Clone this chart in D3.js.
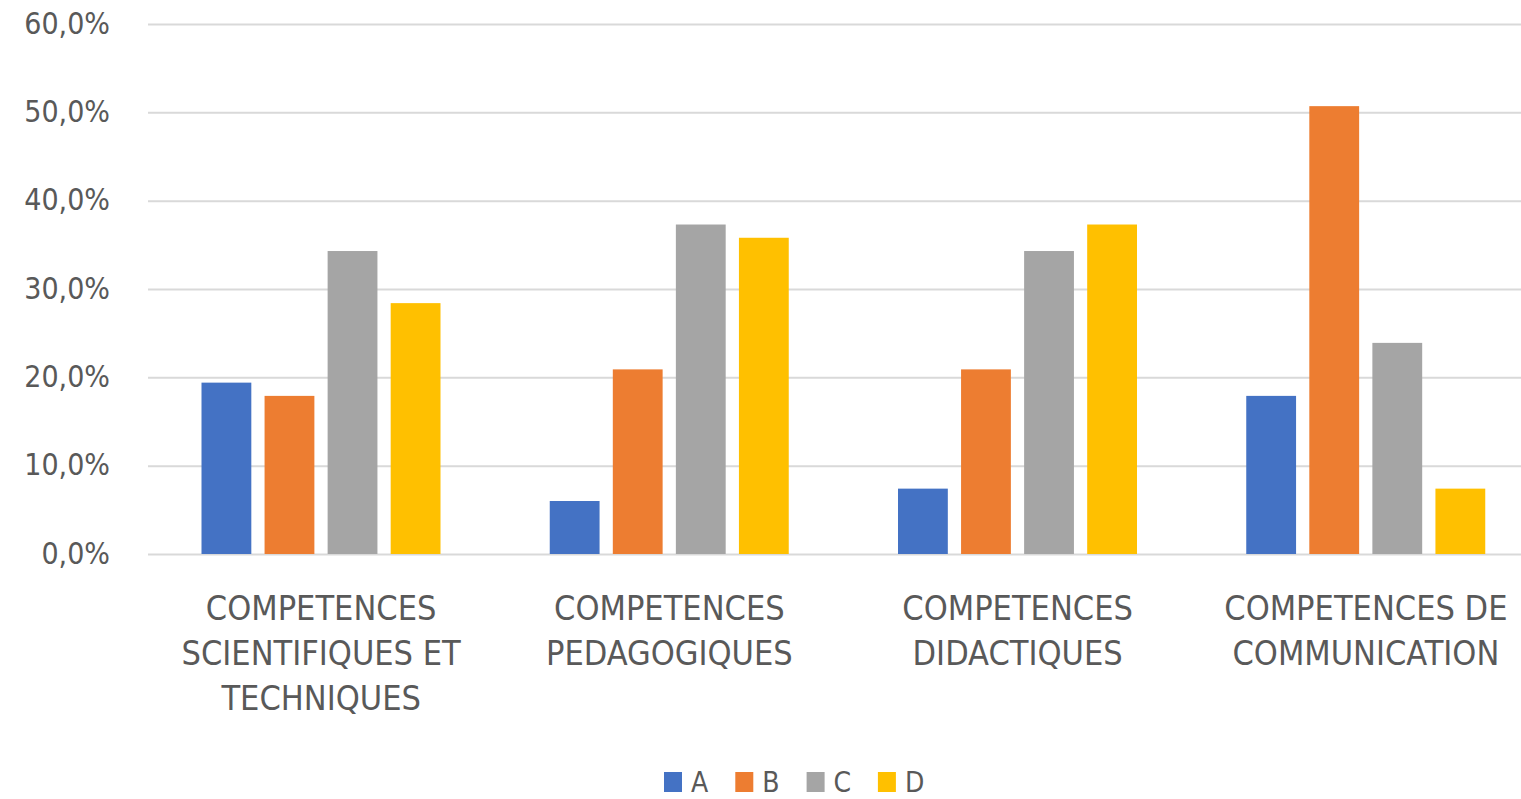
<!DOCTYPE html>
<html>
<head>
<meta charset="utf-8">
<script src="https://cdn.jsdelivr.net/npm/d3@7"></script>
<style>
  html, body { margin: 0; padding: 0; background: #fff; }
  svg text { font-family: "DejaVu Sans Condensed", "DejaVu Sans", sans-serif; fill: #595959; }
</style>
</head>
<body>
<svg class="chart"></svg>
<script>
'use strict';

(function () {

var WIDTH = 1521;
var HEIGHT = 799;

var categories = [
    'COMPETENCES SCIENTIFIQUES ET TECHNIQUES',
    'COMPETENCES PEDAGOGIQUES',
    'COMPETENCES DIDACTIQUES',
    'COMPETENCES DE COMMUNICATION'
];
var seriesKeys = ['A', 'B', 'C', 'D'];
var seriesA = [19.4, 6.0, 7.4, 17.9];
var seriesB = [17.9, 20.9, 20.9, 50.7];
var seriesC = [34.3, 37.3, 34.3, 23.9];
var seriesD = [28.4, 35.8, 37.3, 7.4];
var yTicks = [0, 10, 20, 30, 40, 50, 60];
var colors = ['#4472C4', '#ED7D31', '#A5A5A5', '#FFC000'];

var seriesValues = [seriesA, seriesB, seriesC, seriesD];
var rows = categories.map(function (c, i) {
    return {
        category: c,
        values: seriesKeys.map(function (k, j) { return { key: k, value: seriesValues[j][i] }; })
    };
});

var svg = d3.select('svg.chart')
    .attr('width', WIDTH)
    .attr('height', HEIGHT);

var x0 = d3.scaleBand()
    .domain(categories)
    .range([147, 1540]);

var x1 = d3.scaleBand()
    .domain(seriesKeys)
    .range([54.5, 293.5])
    .paddingInner(0.21);

var y = d3.scaleLinear()
    .domain([0, 60])
    .range([554, 24]);

var color = d3.scaleOrdinal()
    .domain(seriesKeys)
    .range(colors);

// gridlines + y labels
var yAxis = d3.axisLeft(y)
    .tickValues(yTicks)
    .tickSize(-(1540 - 148))
    .tickPadding(38)
    .tickFormat(function (d) { return d3.format('.1f')(d).replace('.', ',') + '%'; });

var yg = svg.append('g')
    .attr('class', 'y axis')
    .attr('transform', 'translate(148,0)')
    .call(yAxis);

yg.select('.domain').remove();
yg.selectAll('.tick line')
    .attr('stroke', '#d9d9d9')
    .attr('stroke-width', 2);
yg.selectAll('.tick text')
    .attr('dy', null)
    .attr('y', 9)
    .style('font-size', '30px');

// bars
var groups = svg.selectAll('g.group')
    .data(rows)
    .enter()
    .append('g')
    .attr('class', 'group')
    .attr('transform', function (d) { return 'translate(' + x0(d.category) + ',0)'; });

groups.selectAll('rect')
    .data(function (d) { return d.values; })
    .enter()
    .append('rect')
    .attr('x', function (d) { return x1(d.key); })
    .attr('width', x1.bandwidth())
    .attr('y', function (d) { return y(d.value); })
    .attr('height', function (d) { return y(0) - y(d.value); })
    .attr('fill', function (d) { return color(d.key); });

// category labels
var xAxis = d3.axisBottom(x0).tickSize(0).tickPadding(0);

var xg = svg.append('g')
    .attr('class', 'x axis')
    .attr('transform', 'translate(0,' + y(0) + ')')
    .call(xAxis);

xg.select('.domain').remove();
xg.selectAll('.tick text')
    .attr('y', 66)
    .attr('dy', null)
    .style('font-size', '34px')
    .call(wrap, 300);

// legend
var legend = svg.append('g')
    .attr('class', 'legend')
    .attr('transform', 'translate(664,772)');

var items = legend.selectAll('g.item')
    .data(seriesKeys)
    .enter()
    .append('g')
    .attr('class', 'item')
    .attr('transform', function (d, i) { return 'translate(' + (i * 71.3) + ',0)'; });

items.append('rect')
    .attr('width', 18)
    .attr('height', 20)
    .attr('fill', function (d) { return color(d); });

items.append('text')
    .attr('x', 27)
    .attr('y', 20)
    .style('font-size', '28px')
    .text(function (d) { return d; });

function wrap(texts, width) {
    texts.each(function () {
        var text = d3.select(this);
        var words = text.text().split(/\s+/);
        var lines = [];
        var line = [];
        text.text(null);
        var probe = text.append('tspan');
        words.forEach(function (w) {
            line.push(w);
            probe.text(line.join(' '));
            if (probe.node().getComputedTextLength() > width && line.length > 1) {
                line.pop();
                lines.push(line.join(' '));
                line = [w];
            }
        });
        lines.push(line.join(' '));
        probe.remove();
        var yPos = text.attr('y');
        lines.forEach(function (l, i) {
            text.append('tspan')
                .attr('x', 0)
                .attr('y', yPos)
                .attr('dy', (i * 45) + 'px')
                .text(l);
        });
    });
}

})();
</script>
</body>
</html>
